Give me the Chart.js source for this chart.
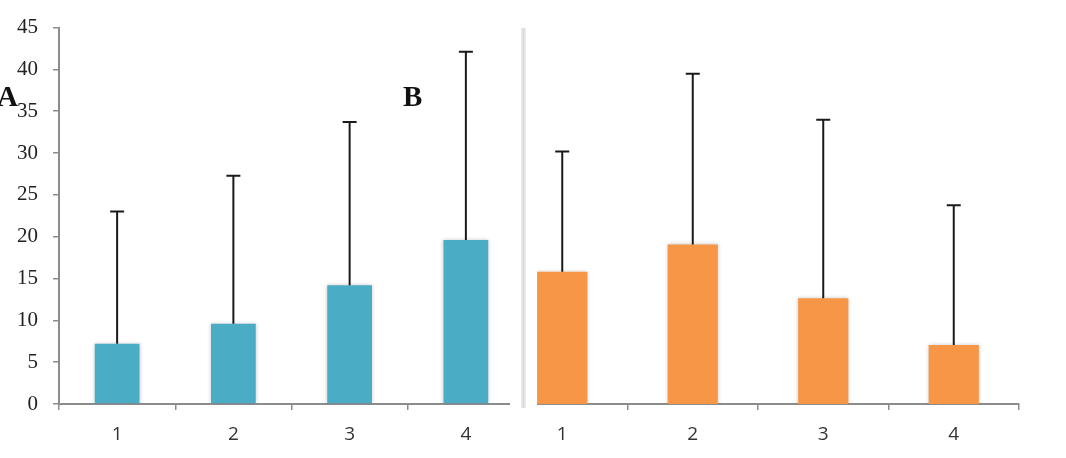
<!DOCTYPE html>
<html>
<head>
<meta charset="utf-8">
<script src="https://cdn.jsdelivr.net/npm/chart.js@4"></script>
<style>
  body { margin: 0; background: #fff; }
  #wrap { position: relative; width: 1066px; height: 458px; overflow: hidden; background: #fff; }
  canvas { position: absolute; top: 0; }
  #chartA { left: 0; }
  #chartB { left: 440px; }
  #gap { position: absolute; left: 510px; top: 0; width: 27px; height: 458px; background: #fff; }
  #sep { position: absolute; left: 521px; top: 28px; width: 5px; height: 380px;
         background: linear-gradient(to right, #ececec, #dcdcdc, #ececec); }
  .panel { position: absolute; font: bold 29px "Liberation Serif", serif; color: #111; }
</style>
</head>
<body>
<div id="wrap">
  <canvas id="chartA" width="524" height="458"></canvas>
  <canvas id="chartB" width="626" height="458"></canvas>
  <div id="gap"></div>
  <div id="sep"></div>
  <div class="panel" style="left:-3px; top:80px;">A</div>
  <div class="panel" style="left:403px; top:80px;">B</div>
</div>
<script>
// data
var labels = ['1', '2', '3', '4'];
var meanA = [7.2, 9.6, 14.2, 19.6];
var topA = [23.0, 27.3, 33.7, 42.1];   // upper end of error bar
var meanB = [15.5, 18.7, 12.4, 6.9];
var topB = [29.6, 38.7, 33.3, 23.3];
var yTicks = [0, 5, 10, 15, 20, 25, 30, 35, 40, 45];

var axisGrey = '#8c8c8c';

// draws the upper error bars using the chart's own scale
var errorBars = {
    id: 'errorBars',
    afterDatasetsDraw: function (chart, args, opts) {
        var ctx = chart.ctx;
        var y = chart.scales.y;
        var meta = chart.getDatasetMeta(0);
        ctx.save();
        ctx.strokeStyle = '#1a1a1a';
        ctx.lineWidth = 2;
        meta.data.forEach(function (bar, i) {
            var yTop = y.getPixelForValue(opts.tops[i]);
            ctx.beginPath();
            ctx.moveTo(bar.x, bar.y);
            ctx.lineTo(bar.x, yTop);
            ctx.moveTo(bar.x - 7, yTop);
            ctx.lineTo(bar.x + 7, yTop);
            ctx.stroke();
        });
        ctx.restore();
    }
};

var barShadow = {
    id: 'barShadow',
    beforeDatasetsDraw: function (chart) {
        chart.ctx.save();
        chart.ctx.shadowColor = 'rgba(0,0,0,0.22)';
        chart.ctx.shadowBlur = 4;
    },
    afterDatasetsDraw: function (chart) {
        chart.ctx.restore();
    }
};

function makeChart(canvasId, values, tops, colour, showY, padding) {
    var ctx = document.getElementById(canvasId).getContext('2d');
    return new Chart(ctx, {
        type: 'bar',
        data: {
            labels: labels,
            datasets: [{
                data: values,
                backgroundColor: colour,
                borderWidth: 0,
                categoryPercentage: 1,
                barPercentage: 0.385
            }]
        },
        plugins: [barShadow, errorBars],
        options: {
            responsive: false,
            animation: false,
            layout: { padding: padding },
            plugins: {
                legend: { display: false },
                tooltip: { enabled: false },
                errorBars: { tops: tops }
            },
            scales: {
                x: {
                    grid: {
                        drawOnChartArea: false,
                        // the right panel's first tick is cut off in the original
                        color: function (c) { return (!showY && c.index === 0) ? 'rgba(0,0,0,0)' : axisGrey; },
                        lineWidth: 1.5, tickLength: 6, offset: true
                    },
                    border: { color: axisGrey, width: 2 },
                    ticks: { color: '#333', padding: 13, font: { family: 'Open Sans', size: 19 } },
                    afterFit: function (scale) { scale.height = 54; }
                },
                y: {
                    display: showY,
                    min: 0,
                    max: 45,
                    afterBuildTicks: function (scale) {
                        scale.ticks = yTicks.map(function (v) { return { value: v }; });
                    },
                    grid: { drawOnChartArea: false, color: axisGrey, lineWidth: 1.5, tickLength: 6 },
                    border: { color: axisGrey, width: 2 },
                    ticks: { color: '#222', padding: 15, font: { family: 'Liberation Serif', size: 21 } },
                    afterFit: function (scale) { if (showY) scale.width = 59; }
                }
            }
        }
    });
}

makeChart('chartA', meanA, topA, '#4bacc6', true, { top: 20, left: 0, right: 0, bottom: 0 });
makeChart('chartB', meanB, topB, '#f79646', false, { top: 20, left: 57, right: 47, bottom: 0 });
</script>
</body>
</html>
